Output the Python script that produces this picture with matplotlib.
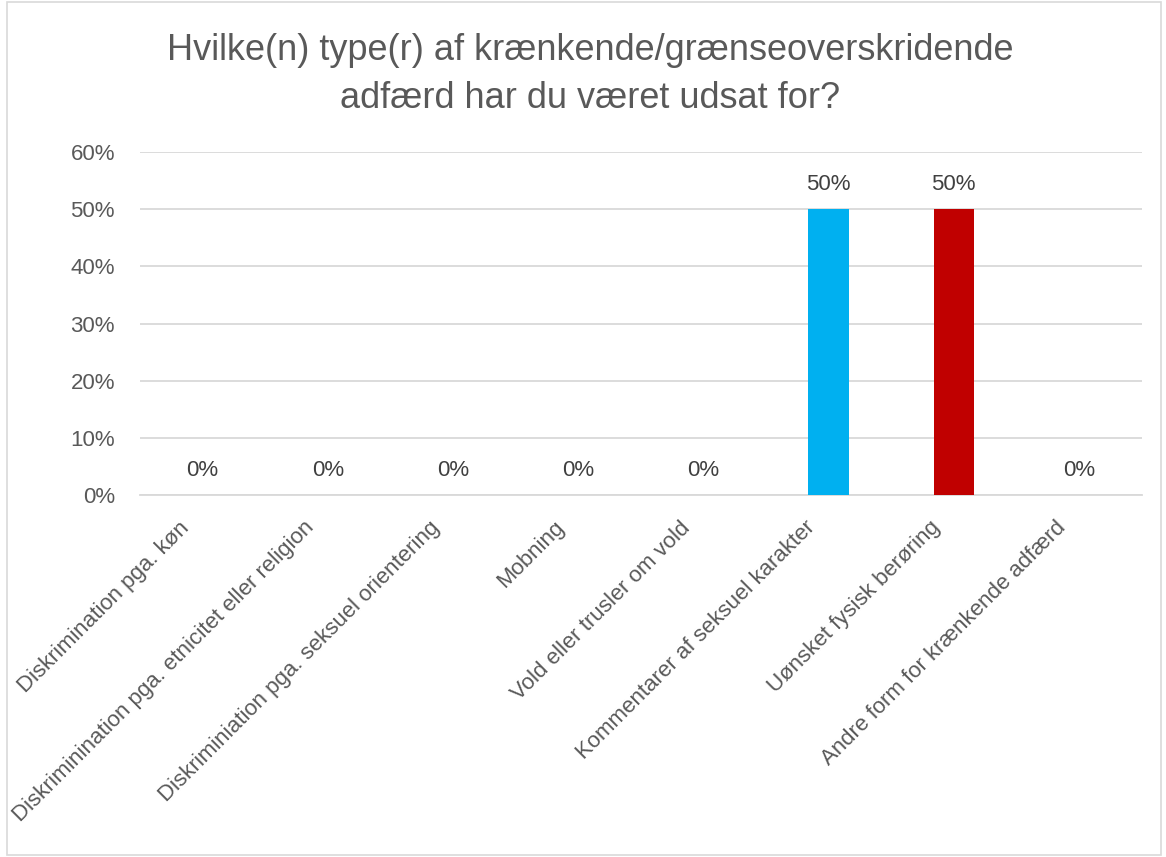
# code:utf-8
import matplotlib
matplotlib.use("Agg")
import matplotlib.pyplot as plt
import matplotlib.transforms as mtransforms
from matplotlib.patches import Rectangle
from matplotlib.ticker import PercentFormatter

categories = [
    "Diskrimination pga. køn",
    "Diskriminination pga. etnicitet eller religion",
    "Diskriminiation pga. seksuel orientering",
    "Mobning",
    "Vold eller trusler om vold",
    "Kommentarer af seksuel karakter",
    "Uønsket fysisk berøring",
    "Andre form for krænkende adfærd",
]
values = [0, 0, 0, 0, 0, 50, 50, 0]
bar_colors = ["#00B0F0"] * 6 + ["#C00000"] * 2
title = "Hvilke(n) type(r) af krænkende/grænseoverskridende\nadfærd har du været udsat for?"

plt.rcParams['font.family'] = ['Liberation Sans', 'DejaVu Sans']
txt = '#595959'

fig = plt.figure(figsize=(11.66, 8.57), dpi=100)
ax = fig.add_axes([0.120, 0.4224, 0.859, 0.4002])

x = range(len(categories))
ax.bar(x, values, width=0.32, color=bar_colors, zorder=3)

ax.set_ylim(0, 60)
ax.set_yticks(range(0, 61, 10))
ax.yaxis.set_major_formatter(PercentFormatter(decimals=0))
ax.set_xlim(-0.5, len(categories) - 0.5)
ax.grid(axis='y', color='#D9D9D9', linewidth=1.3, zorder=0)
for s in ['top', 'right', 'left']:
    ax.spines[s].set_visible(False)
ax.spines['bottom'].set_color('#D9D9D9')
ax.spines['bottom'].set_linewidth(1.3)
ax.tick_params(axis='both', length=0, colors=txt, labelsize=16)
ax.tick_params(axis='y', pad=18)

ax.set_xticks(list(x))
ax.set_xticklabels(categories, rotation=45, ha='right', rotation_mode='anchor')
ax.tick_params(axis='x', pad=16)
# Excel puts the rotated labels a bit left of the category centre
shift = mtransforms.ScaledTranslation(-24 / 100, 0, fig.dpi_scale_trans)
for lab in ax.get_xticklabels():
    lab.set_transform(lab.get_transform() + shift)

for i, v in enumerate(values):
    ax.annotate(f"{v:.0f}%", (i, v), xytext=(0, 10), textcoords='offset points',
                ha='center', va='bottom', fontsize=16, color='#404040')

fig.text(0.506, 0.913, title, ha='center', va='center', fontsize=26,
         color=txt, linespacing=1.45)

fig.patches.append(Rectangle((0.006, 0.002), 0.99, 0.996, transform=fig.transFigure,
                             fill=False, edgecolor='#D9D9D9', linewidth=1.2))

fig.savefig('out.png', dpi=100)
